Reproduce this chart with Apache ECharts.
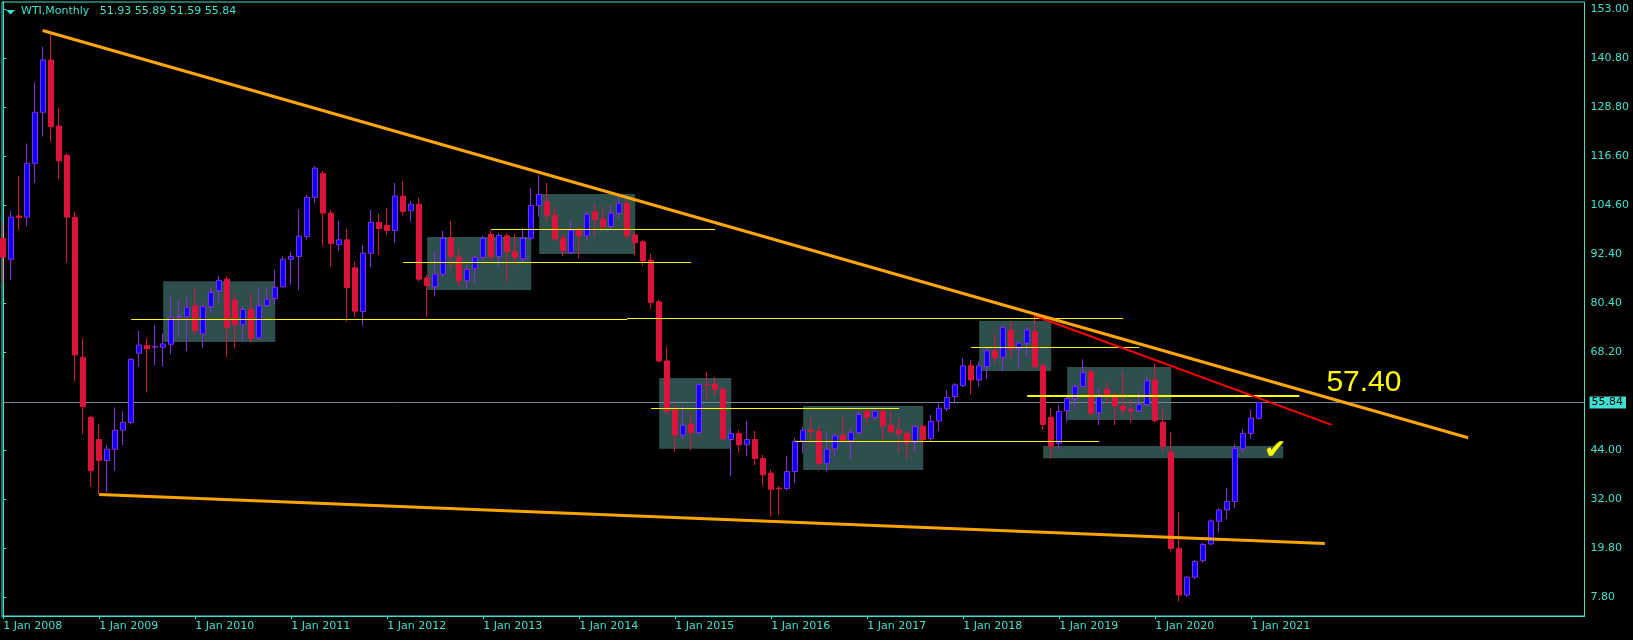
<!DOCTYPE html>
<html><head><meta charset="utf-8">
<script src="https://cdn.jsdelivr.net/npm/echarts@6/dist/echarts.min.js"></script>
<style>html,body{margin:0;padding:0;background:#000;}#c{width:1633px;height:640px;}</style>
</head><body><div id="c"></div>
<script>
// ---- data (x = month index, 0 = Jan 2008) ----
const symbolName = 'WTI,Monthly';
const opens = [
96.4,91.2,101.9,101.6,114.9,127.5,140.4,124.1,116.9,101.6,67.0,52.2,
46.7,41.5,44.3,49.0,50.9,68.0,69.9,69.5,69.5,70.2,76.9,77.0,
79.7,72.8,79.5,83.4,86.3,81.1,75.1,78.8,71.8,79.8,81.5,84.4,
91.2,91.9,96.8,106.5,112.4,102.6,94.8,96.0,89.1,78.3,92.7,100.3,
99.6,98.3,106.8,103.2,104.8,86.6,84.4,87.5,96.4,91.7,85.9,88.9,
91.7,97.4,91.9,97.0,93.1,91.3,96.4,104.5,105.4,102.1,96.4,92.9,
98.4,97.0,102.9,101.1,99.3,102.6,105.0,97.2,95.5,91.0,80.7,66.1,
54.0,47.8,50.5,48.4,60.3,60.4,59.1,46.7,48.2,45.4,46.7,42.0,
38.4,34.7,34.6,38.8,46.3,49.0,48.7,40.8,44.4,47.8,46.4,48.4,
53.7,52.2,53.7,50.2,49.0,48.2,46.1,50.0,46.9,51.3,54.3,57.3,
60.0,64.9,61.4,64.7,68.6,67.0,73.7,69.1,70.5,73.4,64.9,52.2,
45.8,53.8,56.8,59.8,63.4,53.3,59.1,57.7,55.0,54.2,53.8,55.3,
61.4,51.0,43.6,19.8,8.3,12.7,16.8,20.9,26.5,29.3,31.4,44.4,
48.2,51.93];
const highs = [
100.1,103.1,111.8,119.8,134.9,143.7,147.4,128.6,117.3,102.9,71.7,52.5,
50.5,45.3,54.6,53.7,66.8,73.5,71.7,74.9,72.9,82.0,81.1,81.8,
84.0,80.5,84.2,87.1,87.1,82.5,79.5,82.8,84.2,84.2,88.6,92.0,
93.0,103.5,107.1,114.2,113.0,103.4,100.7,98.7,90.5,94.7,103.4,102.4,
103.9,110.0,110.5,105.6,106.3,87.3,93.1,98.2,100.7,93.7,89.8,92.0,
97.0,98.4,97.6,97.6,97.4,99.1,108.9,112.0,110.1,104.0,97.5,100.9,
99.2,103.2,105.0,104.0,104.4,107.5,105.8,98.0,95.9,92.5,81.2,69.6,
55.2,55.0,53.2,60.5,63.4,62.1,59.5,49.4,49.0,51.3,48.8,42.9,
39.2,35.2,42.6,47.1,49.8,52.2,49.9,48.6,48.3,52.2,49.5,54.0,
54.4,54.3,54.1,53.5,51.9,49.0,50.3,50.3,52.8,55.6,58.9,60.6,
66.8,66.3,66.0,69.2,72.9,74.7,75.6,71.1,74.5,77.4,65.5,54.4,
55.2,57.6,60.4,66.5,63.9,59.4,61.0,58.2,63.5,56.6,58.5,62.4,
65.5,54.5,48.5,28.8,13.0,17.0,21.2,27.0,29.7,34.7,45.6,49.2,
54.0,55.89];
const lows = [
85.4,86.1,98.4,99.4,110.1,121.5,120.2,111.0,90.4,61.1,48.1,35.1,
33.2,33.6,39.0,45.3,50.4,64.7,58.3,65.1,64.8,67.8,72.1,68.6,
72.5,69.4,78.0,80.5,67.1,69.4,70.9,70.6,71.3,79.4,80.1,84.2,
84.9,83.6,96.0,105.2,94.5,89.4,93.3,75.8,77.0,74.8,89.2,92.3,
97.2,95.3,102.0,100.5,85.7,77.0,82.0,86.9,89.0,84.4,84.0,85.3,
91.0,91.0,89.4,85.7,90.0,90.6,96.0,101.7,100.7,95.8,91.9,92.5,
91.4,95.8,96.8,98.0,98.3,101.3,96.0,92.3,89.6,79.0,65.7,52.8,
43.7,46.7,44.0,48.1,56.6,57.3,46.7,37.7,43.5,42.7,40.4,35.3,
27.7,28.1,34.1,35.9,43.3,45.8,40.0,38.8,42.5,46.2,41.8,48.0,
50.3,51.5,46.6,48.1,43.5,41.8,43.7,45.4,46.2,48.8,53.6,55.6,
59.7,57.9,59.8,61.7,65.5,63.5,67.0,64.3,67.2,64.3,49.1,42.0,
44.3,51.1,54.2,59.6,52.8,50.3,55.5,50.3,52.8,50.9,53.5,55.1,
50.9,43.7,19.0,6.7,7.9,12.2,16.3,20.6,23.7,27.1,29.7,43.5,
46.9,51.59];
const closes = [
91.7,101.6,101.5,114.9,127.5,140.4,123.9,115.5,101.6,67.6,54.8,39.0,
41.5,44.3,49.0,50.9,66.5,70.0,69.1,69.7,70.3,76.8,77.1,79.3,
73.6,79.5,83.0,86.0,74.4,75.0,78.8,71.7,79.7,81.3,84.3,91.2,
91.9,96.9,106.5,113.7,102.6,95.1,96.0,84.2,78.4,92.7,100.3,98.8,
98.3,106.8,103.0,104.8,86.3,84.7,87.5,96.4,91.9,85.9,88.7,91.7,
96.4,91.9,97.1,93.1,91.7,96.4,104.5,107.2,102.1,96.3,93.3,98.4,
97.0,102.3,101.1,99.3,102.6,105.0,97.0,95.3,90.8,80.5,66.1,53.7,
47.8,50.2,48.4,60.3,60.2,59.1,46.9,48.2,45.4,46.7,42.0,38.0,
34.4,34.5,38.8,46.3,49.0,48.7,40.8,44.3,47.6,46.4,48.4,52.9,
52.2,53.7,50.1,48.6,48.2,45.9,49.9,46.7,51.2,54.4,57.1,60.2,
64.9,61.4,64.9,68.6,66.9,74.4,69.1,70.5,73.7,64.7,50.4,45.0,
53.6,56.8,59.8,63.2,53.2,57.7,57.7,55.0,54.0,53.8,55.3,61.2,
51.4,45.0,19.8,8.3,12.7,16.6,20.8,26.6,29.3,31.4,44.5,48.2,
52.0,55.84];
const xTickValues = [0,12,24,36,48,60,72,84,96,108,120,132,144,156];
const xTickLabels = ['1 Jan 2008','1 Jan 2009','1 Jan 2010','1 Jan 2011','1 Jan 2012','1 Jan 2013','1 Jan 2014',
  '1 Jan 2015','1 Jan 2016','1 Jan 2017','1 Jan 2018','1 Jan 2019','1 Jan 2020','1 Jan 2021'];
const yTickValues = [7.8,19.8,32.0,44.0,68.2,80.4,92.4,104.6,116.6,128.8,140.8,153.0];
// annotations: [x1, price1, x2, price2]
const boxes = [[20,85.8,34,70.8],[53,96.7,66,83.6],[67,107.3,79,92.5],[82,61.9,91,44.4],
  [100,55.0,115,39.2],[122,76.0,131,63.6],[133,64.6,146,51.5],[130,45.1,160,42.1]];
// horizontal levels: [xStart, xEnd, price]
const levels = [[16,78,76.4],[78,140,76.6],[50,86,90.45],[61,89,98.6],[81,112,54.4],[99,137,46.3],[121,142,69.5]];
const keyLevel = [128,162,57.4];
const upperTrend = [[4.93,147.7],[183.1,47.15]];
const lowerTrend = [[12,33.1],[165.2,21.0]];
const redTrend = [[129,77.2],[166.05,50.3]];
const keyLabel = {text:'57.40', at:[165.4,60.65]};
const checkMark = {text:'\u2714', at:[159,43.9]};

const n = closes.length - 1;
const lastPrice = closes[n];
const candles = opens.map((o,i)=>[i,o,closes[i],lows[i],highs[i]]);
const TQ = '#40E0D0';
const FONT = 'DejaVu Sans';

const chart = echarts.init(document.getElementById('c'), null, {renderer:'canvas'});
const seg = (a,b,color,width)=>[{coord:a, lineStyle:{color, width, type:'solid'}},{coord:b}];

chart.setOption({
  backgroundColor:'#000',
  animation:false,
  grid:{left:2, top:2, right:48.5, bottom:24, show:true, borderColor:TQ, borderWidth:1, backgroundColor:'#000'},
  xAxis:{
    type:'value', min:-0.15, max:197.66,
    splitLine:{show:false},
    axisLine:{show:true, onZero:false, lineStyle:{color:TQ, width:1}},
    axisTick:{show:true, length:3, customValues:xTickValues, lineStyle:{color:TQ}},
    axisLabel:{customValues:xTickValues, align:'left', margin:5, color:TQ, fontFamily:FONT, fontSize:11,
      formatter:v=>xTickLabels[xTickValues.indexOf(Math.round(v))] || ''}
  },
  yAxis:{
    type:'value', position:'right', min:3.12, max:154.73,
    splitLine:{show:false},
    axisLine:{show:true, lineStyle:{color:TQ, width:1}},
    axisTick:{show:true, length:3, customValues:yTickValues, lineStyle:{color:TQ}},
    axisLabel:{customValues:yTickValues, margin:6, color:TQ, fontFamily:FONT, fontSize:11,
      formatter:v=>v.toFixed(2)}
  },
  graphic:[
    {type:'polygon', shape:{points:[[6,10],[15,10],[10.5,14.5]]}, style:{fill:TQ}, z:10},
    {type:'text', left:21, top:6, z:10, style:{
      text: symbolName+'   '+opens[n].toFixed(2)+' '+highs[n].toFixed(2)+' '+lows[n].toFixed(2)+' '+closes[n].toFixed(2),
      fill:TQ, font:'11px '+FONT}}
  ],
  series:[
    {
      type:'line', data:[], z:1, silent:true,
      markArea:{silent:true, itemStyle:{color:'#2F4F4F', opacity:1},
        data: boxes.map(b=>[{coord:[b[0],b[1]]},{coord:[b[2],b[3]]}])},
      markLine:{silent:true, z:1, symbol:['none','none'], animation:false,
        lineStyle:{color:'#778899', width:1, type:'solid'},
        label:{show:true, position:'end', distance:5, formatter:lastPrice.toFixed(2),
          backgroundColor:TQ, color:'#000', fontFamily:FONT, fontSize:11, padding:[1,3,0,2]},
        data:[{yAxis:lastPrice}]}
    },
    {
      type:'candlestick', z:2, silent:true, barWidth:5,
      encode:{x:0, y:[1,2,3,4]},
      itemStyle:{color:'#0000FF', color0:'#DC143C', borderColor:'#8A2BE2', borderColor0:'#DC143C', borderWidth:1},
      data:candles
    },
    {
      type:'line', data:[], z:3, silent:true,
      markLine:{silent:true, symbol:['none','none'], animation:false, label:{show:false},
        data:[
          ...levels.map(l=>seg([l[0],l[2]],[l[1],l[2]],'#FFFF00',1)),
          seg([keyLevel[0],keyLevel[2]],[keyLevel[1],keyLevel[2]],'#FFFF00',2),
          seg(redTrend[0],redTrend[1],'#FF0000',2),
          seg(lowerTrend[0],lowerTrend[1],'#FFA500',3),
          seg(upperTrend[0],upperTrend[1],'#FFA500',3)
        ]},
      markPoint:{silent:true, symbol:'circle', symbolSize:0, animation:false,
        data:[
          {coord:keyLabel.at, label:{show:true, position:'right', distance:0, formatter:keyLabel.text,
            color:'#FFFF00', fontFamily:'Liberation Sans', fontSize:30}},
          {coord:checkMark.at, label:{show:true, position:'inside', formatter:checkMark.text,
            color:'#FFFF00', fontFamily:FONT, fontSize:26, textBorderColor:'#9A9A00', textBorderWidth:1}}
        ]}
    }
  ]
});
</script></body></html>
